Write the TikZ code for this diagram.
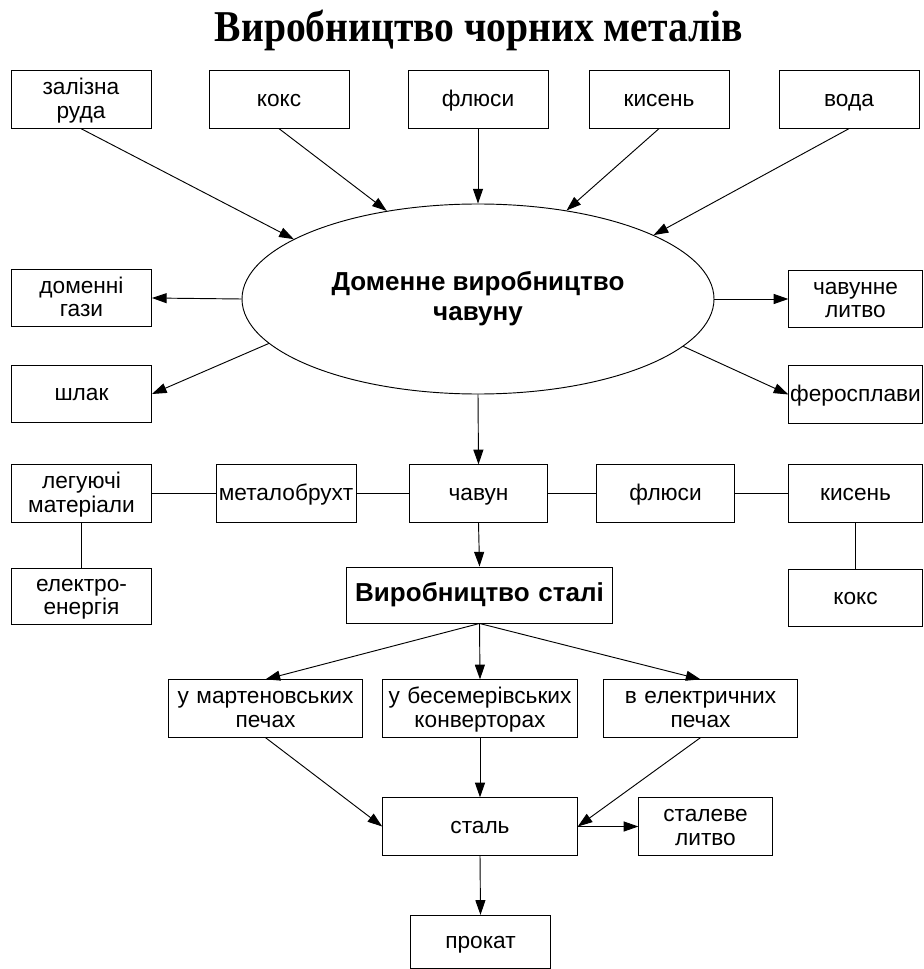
\documentclass[tikz,border=0pt]{standalone}
\usepackage{fontspec}
\setmainfont{Liberation Sans}
\newfontfamily\titlefont[FakeStretch=0.9]{Liberation Serif}
\usetikzlibrary{shapes.geometric,arrows.meta}
\newcommand{\boxtopstrut}{\rule{0pt}{14pt}}
\newcommand{\boxbotstrut}{\rule[-3.7pt]{0pt}{3.7pt}}

\tikzset{
  blk/.style={draw, line width=0.7pt, text width=105pt, minimum height=43pt,
    inner xsep=0pt, inner ysep=0pt, align=center,
    font=\fontsize{17}{17.5}\selectfont,
    execute at begin node=\boxtopstrut, execute at end node=\boxbotstrut},
  arr/.style={-{Triangle[length=11pt,width=7.5pt]}, line width=0.7pt},
  lnk/.style={line width=0.7pt}
}

\begin{document}
\begin{tikzpicture}[x=0.75pt,y=-0.75pt]
\useasboundingbox (0,0) rectangle (923,969);
% title
\node[anchor=base] (title) at (479,42) {\titlefont\bfseries\fontsize{33}{36}\selectfont Виробництво чорних металів};

% inputs of the blast furnace
\node[blk] (ore) at (81,99.5) {залізна\\руда};
\node[blk] (coke) at (279,99.5) {кокс};
\node[blk] (flux) at (478,99.5) {флюси};
\node[blk] (oxy) at (659,99.5) {кисень};
\node[blk] (water) at (849,99.5) {вода};

% blast furnace
\node[draw, ellipse, line width=0.7pt, minimum width=354pt, minimum height=142.5pt,
  align=center, font=\bfseries\fontsize{19.5}{22.5}\selectfont] (blast) at (478,299)
  {Доменне виробництво\\чавуну};

% by-products
\node[blk] (gas) at (81.5,298) {доменні\\гази};
\node[blk] (slag) at (81.5,394) {шлак};
\node[blk, text width=100pt] (castiron) at (855.5,299) {чавунне\\литво};
\node[blk, text width=100pt] (ferro) at (855.5,394.5) {феросплави};

% charge of the steel furnace
\node[blk] (alloy) at (81.5,493.5) {легуючі\\матеріали};
\node[blk] (scrap) at (286,493.5) {металобрухт};
\node[blk, text width=104pt] (pig) at (478.5,493.5) {чавун};
\node[blk, text width=104pt] (flux2) at (665.5,493.5) {флюси};
\node[blk, text width=100pt] (oxy2) at (855.5,493.5) {кисень};
\node[blk, minimum height=42pt] (power) at (81.5,596) {електро-\\енергія};
\node[blk, text width=100pt] (coke2) at (855.5,598) {кокс};
\node[blk, text width=200pt, minimum height=42pt,
  font=\bfseries\fontsize{19.5}{22.5}\selectfont] (steelmk) at (479.5,595) {Виробництво сталі};

% steel making
\node[blk, text width=146pt] (mart) at (265.5,708.5) {у мартеновських\\печах};
\node[blk, text width=146pt] (bess) at (480,708.5) {у бесемерівських\\конверторах};
\node[blk, text width=146pt] (elec) at (700.5,708.5) {в електричних\\печах};
\node[blk, text width=146pt] (steel) at (480,826.5) {сталь};
\node[blk, text width=100pt] (cast2) at (705.5,826.5) {сталеве\\литво};
\node[blk, minimum height=40pt] (rolled) at (480.5,942) {прокат};

% connectors
\draw[arr] (ore.south) -- (blast.162);
\draw[arr] (coke.south) -- (blast.136);
\draw[arr] (flux.south) -- (blast.north);
\draw[arr] (oxy.south) -- (blast.45);
\draw[arr] (water.south) -- (blast.20);
\draw[arr] (blast.west) -- (gas.east);
\draw[arr] (blast.192) -- (slag.east);
\draw[arr] (blast.east) -- (castiron.west);
\draw[arr] (blast.347) -- (ferro.west);
\draw[arr] (blast.south) -- (pig.north);

\draw[lnk] (alloy.east) -- (scrap.west);
\draw[lnk] (scrap.east) -- (pig.west);
\draw[lnk] (pig.east) -- (flux2.west);
\draw[lnk] (flux2.east) -- (oxy2.west);
\draw[lnk] (alloy.south) -- (power.north);
\draw[lnk] (oxy2.south) -- (coke2.north);

\draw[arr] (pig.south) -- (steelmk.north);
\draw[arr] (steelmk.south) -- (mart.north);
\draw[arr] (steelmk.south) -- (bess.north);
\draw[arr] (steelmk.south) -- (elec.north);
\draw[arr] (mart.south) -- (steel.west);
\draw[arr] (bess.south) -- (steel.north);
\draw[arr] (elec.south) -- (steel.east);
\draw[arr] (steel.east) -- (cast2.west);
\draw[arr] (steel.south) -- (rolled.north);
\end{tikzpicture}
\end{document}
